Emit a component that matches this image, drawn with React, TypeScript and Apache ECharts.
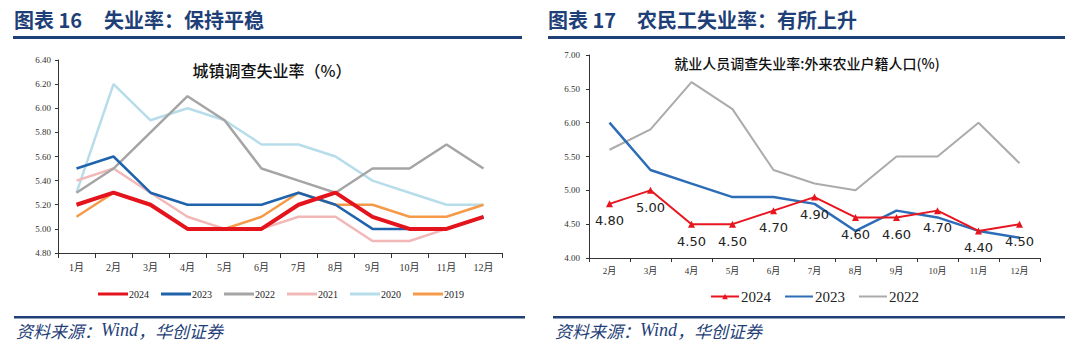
import React, { useEffect, useRef } from "react";
import * as echarts from "echarts";

const leftMonths = ["1月", "2月", "3月", "4月", "5月", "6月", "7月", "8月", "9月", "10月", "11月", "12月"];
const urban2024 = [5.2, 5.3, 5.2, 5.0, 5.0, 5.0, 5.2, 5.3, 5.1, 5.0, 5.0, 5.1];
const urban2023 = [5.5, 5.6, 5.3, 5.2, 5.2, 5.2, 5.3, 5.2, 5.0, 5.0, 5.0, 5.1];
const urban2022 = [5.3, 5.5, 5.8, 6.1, 5.9, 5.5, 5.4, 5.3, 5.5, 5.5, 5.7, 5.5];
const urban2021 = [5.4, 5.5, 5.3, 5.1, 5.0, 5.0, 5.1, 5.1, 4.9, 4.9, 5.0, 5.1];
const urban2020 = [5.3, 6.2, 5.9, 6.0, 5.9, 5.7, 5.7, 5.6, 5.4, 5.3, 5.2, 5.2];
const urban2019 = [5.1, 5.3, 5.2, 5.0, 5.0, 5.1, 5.3, 5.2, 5.2, 5.1, 5.1, 5.2];

const rightMonths = ["2月", "3月", "4月", "5月", "6月", "7月", "8月", "9月", "10月", "11月", "12月"];
const migrant2024 = [4.8, 5.0, 4.5, 4.5, 4.7, 4.9, 4.6, 4.6, 4.7, 4.4, 4.5];
const migrant2023 = [6.0, 5.3, 5.1, 4.9, 4.9, 4.8, 4.4, 4.7, 4.6, 4.4, 4.3];
const migrant2022 = [5.6, 5.9, 6.6, 6.2, 5.3, 5.1, 5.0, 5.5, 5.5, 6.0, 5.4];

const NAVY = "#1F3F78";
const SERIF = "'Liberation Serif', 'Times New Roman', 'Noto Sans CJK SC', serif";
const CJK = "'Noto Sans CJK SC', sans-serif";

export default function App() {
  const ref = useRef<HTMLDivElement>(null);
  useEffect(() => {
    const chart = echarts.init(ref.current!, null, { renderer: "svg" });
    const axisLine = { show: true, lineStyle: { color: "#333", width: 1 } };
    const leftSeries = [
      { name: "2024", data: urban2024, color: "#E3141C", width: 4, z: 10 },
      { name: "2023", data: urban2023, color: "#1F63AD", width: 2.5, z: 9 },
      { name: "2022", data: urban2022, color: "#A5A5A5", width: 2.5, z: 5 },
      { name: "2021", data: urban2021, color: "#F2B8B8", width: 2.5, z: 4 },
      { name: "2020", data: urban2020, color: "#B7DDEB", width: 2.5, z: 3 },
      { name: "2019", data: urban2019, color: "#F59A48", width: 2.5, z: 6 },
    ].map((s) => ({
      type: "line",
      name: s.name,
      xAxisIndex: 0,
      yAxisIndex: 0,
      data: s.data,
      symbol: "none",
      z: s.z,
      lineStyle: { color: s.color, width: s.width },
      itemStyle: { color: s.color },
    }));

    const footerStyle = {
      text: "{a|资料来源：}{b|Wind}{a|，华创证券}",
      rich: {
        a: { font: `italic 17px ${CJK}`, fill: NAVY, fontStyle: "italic", fontSize: 17, fontFamily: CJK, color: NAVY },
        b: { font: `italic 18px ${SERIF}`, fill: NAVY, fontStyle: "italic", fontSize: 18, fontFamily: SERIF, color: NAVY },
      },
      fill: NAVY,
    };

    const option: any = {
      animation: false,
      backgroundColor: "#fff",
      title: [
        {
          text: "城镇调查失业率（%）",
          left: 267,
          top: 57,
          textAlign: "center",
          textStyle: { fontFamily: CJK, fontSize: 16, fontWeight: 500, color: "#111" },
        },
        {
          text: "就业人员调查失业率:外来农业户籍人口(%)",
          left: 802,
          top: 51,
          textAlign: "center",
          textStyle: { fontFamily: CJK, fontSize: 14, fontWeight: 500, color: "#111" },
        },
      ],
      grid: [
        { left: 58, right: 578, top: 60, bottom: 105, containLabel: false },
        { left: 589, right: 40, top: 55, bottom: 100, containLabel: false },
      ],
      legend: [
        {
          data: ["2024", "2023", "2022", "2021", "2020", "2019"],
          left: 93,
          top: 284,
          icon: "rect",
          itemWidth: 30,
          itemHeight: 3,
          itemGap: 12,
          textStyle: { fontFamily: SERIF, fontSize: 10, color: "#222", padding: [0, 0, 0, -4] },
          orient: "horizontal",
        },
        {
          data: [
            { name: "2024 " },
            { name: "2023 ", itemStyle: { opacity: 0 } },
            { name: "2022 ", itemStyle: { opacity: 0 } },
          ],
          left: 705,
          top: 284,
          itemWidth: 28,
          itemHeight: 7,
          itemGap: 13,
          textStyle: { fontFamily: SERIF, fontSize: 15, color: "#222", padding: [0, 0, 0, -3] },
          formatter: (n: string) => n.trim(),
        },
      ],
      xAxis: [
        {
          type: "category",
          gridIndex: 0,
          data: leftMonths,
          boundaryGap: true,
          axisLine,
          axisTick: { show: true, alignWithLabel: false, length: 5, lineStyle: { color: "#333" } },
          axisLabel: { fontFamily: SERIF, fontSize: 10, color: "#333", margin: 9, interval: 0 },
        },
        {
          type: "category",
          gridIndex: 1,
          data: rightMonths,
          boundaryGap: true,
          axisLine,
          axisTick: { show: true, alignWithLabel: false, length: 4, lineStyle: { color: "#333" } },
          axisLabel: { fontFamily: SERIF, fontSize: 9, color: "#333", margin: 8, interval: 0 },
        },
      ],
      yAxis: [
        {
          type: "value",
          gridIndex: 0,
          min: 4.8,
          max: 6.4,
          interval: 0.2,
          axisLine,
          axisTick: { show: true, length: 3, lineStyle: { color: "#333" } },
          splitLine: { show: false },
          axisLabel: { fontFamily: SERIF, fontSize: 9, color: "#333", margin: 7, formatter: (v: number) => v.toFixed(2) },
        },
        {
          type: "value",
          gridIndex: 1,
          min: 4.0,
          max: 7.0,
          interval: 0.5,
          axisLine,
          axisTick: { show: true, length: 3, lineStyle: { color: "#333" } },
          splitLine: { show: false },
          axisLabel: { fontFamily: SERIF, fontSize: 9, color: "#333", margin: 9, formatter: (v: number) => v.toFixed(2) },
        },
      ],
      series: [
        ...leftSeries,
        {
          type: "line",
          name: "2022 ",
          xAxisIndex: 1,
          yAxisIndex: 1,
          data: migrant2022,
          symbol: "none",
          z: 3,
          lineStyle: { color: "#ABABAB", width: 2 },
          itemStyle: { color: "#ABABAB" },
        },
        {
          type: "line",
          name: "2023 ",
          xAxisIndex: 1,
          yAxisIndex: 1,
          data: migrant2023,
          symbol: "none",
          z: 4,
          lineStyle: { color: "#2D6DB8", width: 2.5 },
          itemStyle: { color: "#2D6DB8" },
        },
        {
          type: "line",
          name: "2024 ",
          xAxisIndex: 1,
          yAxisIndex: 1,
          data: migrant2024,
          symbol: "triangle",
          symbolSize: 7,
          z: 5,
          lineStyle: { color: "#E8141E", width: 2 },
          itemStyle: { color: "#E8141E" },
          label: {
            show: true,
            position: "bottom",
            distance: 7,
            fontFamily: "'DejaVu Sans', sans-serif",
            fontSize: 13,
            color: "#222",
            formatter: (p: any) => Number(p.value).toFixed(2),
          },
        },
      ],
      graphic: [
        { type: "text", left: 14, top: 9, style: { text: "图表 16", font: `bold 20px ${CJK}`, fill: NAVY } },
        { type: "text", left: 104, top: 9, style: { text: "失业率：保持平稳", font: `bold 20px ${CJK}`, fill: NAVY } },
        { type: "rect", shape: { x: 13, y: 36, width: 509, height: 3 }, style: { fill: NAVY } },
        { type: "text", left: 548, top: 9, style: { text: "图表 17", font: `bold 20px ${CJK}`, fill: NAVY } },
        { type: "text", left: 637, top: 9, style: { text: "农民工失业率：有所上升", font: `bold 20px ${CJK}`, fill: NAVY } },
        { type: "rect", shape: { x: 548, y: 36, width: 517, height: 3 }, style: { fill: NAVY } },
        { type: "rect", shape: { x: 14, y: 316, width: 511, height: 2.5 }, style: { fill: NAVY } },
        { type: "rect", shape: { x: 553, y: 316, width: 512, height: 2.5 }, style: { fill: NAVY } },
        { type: "text", left: 16, top: 321, style: footerStyle },
        { type: "text", left: 555, top: 321, style: footerStyle },
      ],
    };
    chart.setOption(option);
    return () => chart.dispose();
  }, []);
  return (
    <div
      ref={ref}
      style={{ position: "absolute", left: 0, top: 0, width: 1080, height: 358, background: "#fff" }}
    />
  );
}
